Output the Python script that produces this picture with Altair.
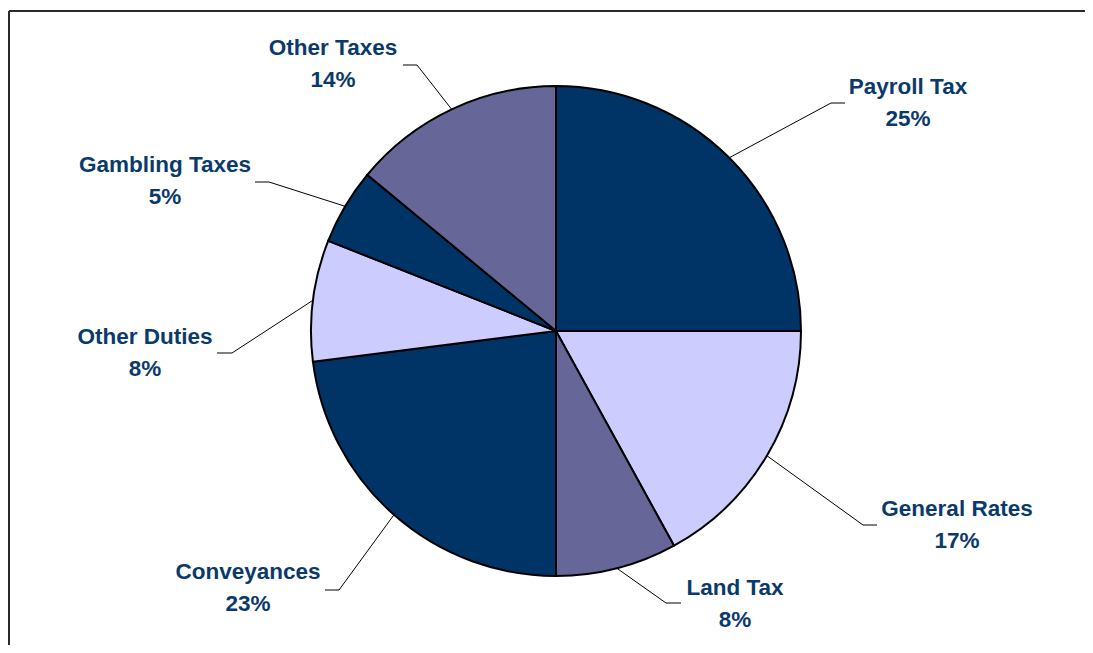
import math
import altair as alt
import pandas as pd

# ---- data ----
categories = ["Payroll Tax", "General Rates", "Land Tax", "Conveyances",
              "Other Duties", "Gambling Taxes", "Other Taxes"]
shares = [25, 17, 8, 23, 8, 5, 14]
pct_labels = ["25%", "17%", "8%", "23%", "8%", "5%", "14%"]
slice_colors = ["#003366", "#CCCCFF", "#666699", "#003366",
                "#CCCCFF", "#003366", "#666699"]

# ---- layout (pixel offsets from pie centre) ----
W, H = 1076, 634
CX, CY = 547, 320
R = 245
label_pos = {  # centre of the name line
    "Payroll Tax": (352, -244), "General Rates": (401, 178), "Land Tax": (179, 257),
    "Conveyances": (-308, 241), "Other Duties": (-411, 6), "Gambling Taxes": (-391, -166),
    "Other Taxes": (-223, -283),
}
elbow_pos = {  # elbow x, y, end x
    "Payroll Tax": (275, -228, 289), "General Rates": (307, 194, 321), "Land Tax": (110, 272, 125),
    "Conveyances": (-217, 259, -231), "Other Duties": (-324, 22, -339),
    "Gambling Taxes": (-287, -149, -301), "Other Taxes": (-139, -266, -153),
}
LINE_GAP = 32

pie_df = pd.DataFrame({"cat": categories, "share": shares, "order": range(len(categories))})

# leader lines: start on the rim at each slice's mid-angle
total = sum(shares)
rows = []
cum = 0
for c, s in zip(categories, shares):
    mid = (cum + s / 2) / total * 2 * math.pi
    cum += s
    ex, ey, endx = elbow_pos[c]
    pts = [(R * math.sin(mid), -R * math.cos(mid)), (ex, ey), (endx, ey)]
    for i, (px, py) in enumerate(pts):
        rows.append({"cat": c, "i": i, "x": px, "y": py})
lead_df = pd.DataFrame(rows)

txt_rows = []
for c, p in zip(categories, pct_labels):
    lx, ly = label_pos[c]
    txt_rows.append({"t": c, "x": lx, "y": ly})
    txt_rows.append({"t": p, "x": lx, "y": ly + LINE_GAP})
txt_df = pd.DataFrame(txt_rows)

xs = alt.Scale(domain=[-CX, W - CX])
ys = alt.Scale(domain=[-CY, H - CY], reverse=True)

# frame (left and top edges; the others lie outside the picture)
frame_df = pd.DataFrame({"edge": ["left", "top"]})
frame_left = alt.Chart(frame_df).transform_filter("datum.edge == 'left'").mark_rule(
    color="#2a2a2a", strokeWidth=2).encode(
    x=alt.value(0), y=alt.value(0), y2=alt.value(H + 20))
frame_top = alt.Chart(frame_df).transform_filter("datum.edge == 'top'").mark_rule(
    color="#2a2a2a", strokeWidth=2).encode(
    y=alt.value(0), x=alt.value(0), x2=alt.value(W + 20))

pie = alt.Chart(pie_df).mark_arc(stroke="#000000", strokeWidth=2, radius=R).encode(
    theta=alt.Theta("share:Q", stack=True),
    order=alt.Order("order:Q"),
    color=alt.Color("cat:N", scale=alt.Scale(domain=categories, range=slice_colors), legend=None),
    x=alt.X(datum=0, type="quantitative", scale=xs, axis=None),
    y=alt.Y(datum=0, type="quantitative", scale=ys, axis=None),
)

leads = alt.Chart(lead_df).mark_line(color="#000000", strokeWidth=1).encode(
    x=alt.X("x:Q", scale=xs, axis=None),
    y=alt.Y("y:Q", scale=ys, axis=None),
    detail="cat:N",
    order="i:Q",
)

texts = alt.Chart(txt_df).mark_text(
    font="Liberation Sans", fontWeight="bold", fontSize=22.5, color="#0A3A6B",
    align="center", baseline="middle",
).encode(
    x=alt.X("x:Q", scale=xs, axis=None),
    y=alt.Y("y:Q", scale=ys, axis=None),
    text="t:N",
)

chart = alt.layer(leads, pie, texts, frame_left, frame_top).properties(
    width=W, height=H,
    autosize=alt.AutoSizeParams(type="none"),
    padding={"left": 1, "top": 3, "right": 0, "bottom": 0},
    background="#ffffff",
).configure_view(stroke=None)

chart.save("out.html", embed_options={"renderer": "svg", "actions": False})
